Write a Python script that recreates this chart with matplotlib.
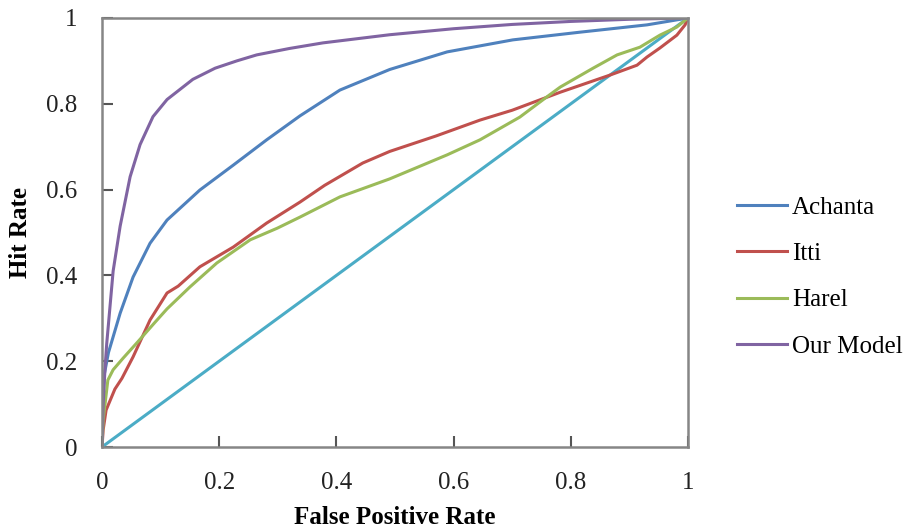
import matplotlib
matplotlib.use("Agg")
import matplotlib.pyplot as plt

plt.rcParams['font.family'] = ['Liberation Serif', 'DejaVu Serif']

# Data
achanta_x = [0.0, 0.001, 0.004, 0.011, 0.031, 0.053, 0.082, 0.111, 0.167, 0.224, 0.281, 0.338, 0.406, 0.491, 0.589, 0.701, 0.816, 0.930, 1.0]
achanta_y = [0.0, 0.100, 0.170, 0.220, 0.312, 0.396, 0.475, 0.529, 0.599, 0.657, 0.716, 0.772, 0.832, 0.880, 0.921, 0.949, 0.967, 0.984, 1.0]

itti_x = [0.0, 0.002, 0.007, 0.022, 0.034, 0.053, 0.082, 0.111, 0.130, 0.167, 0.224, 0.281, 0.338, 0.380, 0.445, 0.491, 0.570, 0.645, 0.700, 0.782, 0.867, 0.913, 0.930, 0.952, 0.981, 0.995, 1.0]
itti_y = [0.0, 0.040, 0.086, 0.135, 0.160, 0.210, 0.296, 0.359, 0.375, 0.420, 0.466, 0.522, 0.571, 0.610, 0.662, 0.689, 0.725, 0.762, 0.785, 0.827, 0.867, 0.890, 0.909, 0.930, 0.960, 0.984, 1.0]

harel_x = [0.0, 0.002, 0.010, 0.019, 0.036, 0.061, 0.090, 0.111, 0.150, 0.196, 0.253, 0.299, 0.338, 0.406, 0.491, 0.589, 0.645, 0.713, 0.759, 0.782, 0.838, 0.879, 0.918, 0.952, 0.981, 1.0]
harel_y = [0.0, 0.063, 0.156, 0.180, 0.207, 0.245, 0.290, 0.322, 0.373, 0.429, 0.483, 0.510, 0.536, 0.583, 0.625, 0.681, 0.716, 0.769, 0.816, 0.839, 0.883, 0.914, 0.932, 0.960, 0.979, 1.0]

ours_x = [0.0, 0.002, 0.005, 0.008, 0.019, 0.031, 0.048, 0.065, 0.087, 0.111, 0.155, 0.193, 0.230, 0.264, 0.320, 0.377, 0.491, 0.600, 0.700, 0.800, 0.900, 1.0]
ours_y = [0.0, 0.100, 0.180, 0.240, 0.410, 0.515, 0.630, 0.705, 0.770, 0.810, 0.857, 0.883, 0.900, 0.914, 0.929, 0.942, 0.961, 0.975, 0.985, 0.992, 0.997, 1.0]

diag_x = [0.0, 1.0]
diag_y = [0.0, 1.0]

xticks = [0, 0.2, 0.4, 0.6, 0.8, 1]
xticklabels = ['0', '0.2', '0.4', '0.6', '0.8', '1']
yticks = [0, 0.2, 0.4, 0.6, 0.8, 1]
yticklabels = ['0', '0.2', '0.4', '0.6', '0.8', '1']

fig = plt.figure(figsize=(9.14, 5.31), dpi=100)
ax = fig.add_axes([102/914, 1 - 447/531, (688-102)/914, (447-18)/531])

lw = 2.2
ax.plot(diag_x, diag_y, color='#4BACC6', lw=lw)
l1, = ax.plot(achanta_x, achanta_y, color='#4F81BD', lw=lw, label='Achanta')
l2, = ax.plot(itti_x, itti_y, color='#C0504D', lw=lw, label='Itti')
l3, = ax.plot(harel_x, harel_y, color='#9BBB59', lw=lw, label='Harel')
l4, = ax.plot(ours_x, ours_y, color='#8064A2', lw=lw, label='Our Model')

ax.set_xlim(0, 1)
ax.set_ylim(0, 1)
ax.set_xticks(xticks)
ax.set_xticklabels(xticklabels)
ax.set_yticks(yticks)
ax.set_yticklabels(yticklabels)
for s in ax.spines.values():
    s.set_color('#868686')
    s.set_linewidth(1.8)
ax.tick_params(axis='both', direction='in', length=8, width=1.5, color='#555555',
               labelsize=18, colors='#222222')
ax.tick_params(axis='x', pad=18)
ax.tick_params(axis='y', pad=18)
ax.tick_params(top=False, right=False)

ax.set_xlabel('False Positive Rate', fontsize=18, fontweight='bold', labelpad=9)
ax.set_ylabel('Hit Rate', fontsize=18, fontweight='bold', labelpad=10)

fig.legend(handles=[l1, l2, l3, l4], loc='center left', bbox_to_anchor=(737/914, 1 - 277/531),
           frameon=False, fontsize=18, handlelength=2.0, handletextpad=0.2, labelspacing=0.95,
           borderaxespad=0, borderpad=0)

fig.savefig('out.png', dpi=100)
